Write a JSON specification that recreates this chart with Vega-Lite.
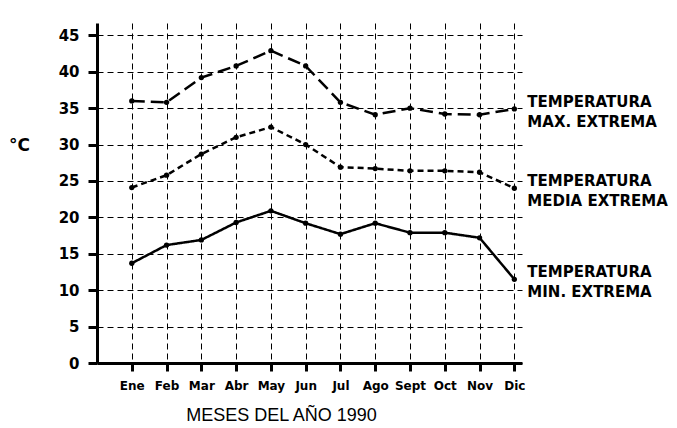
{
  "$schema": "https://vega.github.io/schema/vega-lite/v6.json",
  "width": 425,
  "height": 340,
  "autosize": "none",
  "padding": {"left": 97, "top": 23, "right": 155, "bottom": 65},
  "background": "white",
  "config": {
    "view": {"stroke": null},
    "font": "Liberation Sans"
  },
  "data": {
    "values": [
      {"mes": 1, "serie": "TEMPERATURA\nMAX. EXTREMA", "valor": 36.0},
      {"mes": 2, "serie": "TEMPERATURA\nMAX. EXTREMA", "valor": 35.8},
      {"mes": 3, "serie": "TEMPERATURA\nMAX. EXTREMA", "valor": 39.2},
      {"mes": 4, "serie": "TEMPERATURA\nMAX. EXTREMA", "valor": 40.8},
      {"mes": 5, "serie": "TEMPERATURA\nMAX. EXTREMA", "valor": 42.9},
      {"mes": 6, "serie": "TEMPERATURA\nMAX. EXTREMA", "valor": 40.8},
      {"mes": 7, "serie": "TEMPERATURA\nMAX. EXTREMA", "valor": 35.8},
      {"mes": 8, "serie": "TEMPERATURA\nMAX. EXTREMA", "valor": 34.1},
      {"mes": 9, "serie": "TEMPERATURA\nMAX. EXTREMA", "valor": 35.0},
      {"mes": 10, "serie": "TEMPERATURA\nMAX. EXTREMA", "valor": 34.2},
      {"mes": 11, "serie": "TEMPERATURA\nMAX. EXTREMA", "valor": 34.1},
      {"mes": 12, "serie": "TEMPERATURA\nMAX. EXTREMA", "valor": 34.9},
      {"mes": 1, "serie": "TEMPERATURA\nMEDIA EXTREMA", "valor": 24.1},
      {"mes": 2, "serie": "TEMPERATURA\nMEDIA EXTREMA", "valor": 25.8},
      {"mes": 3, "serie": "TEMPERATURA\nMEDIA EXTREMA", "valor": 28.7},
      {"mes": 4, "serie": "TEMPERATURA\nMEDIA EXTREMA", "valor": 31.0},
      {"mes": 5, "serie": "TEMPERATURA\nMEDIA EXTREMA", "valor": 32.4},
      {"mes": 6, "serie": "TEMPERATURA\nMEDIA EXTREMA", "valor": 30.0},
      {"mes": 7, "serie": "TEMPERATURA\nMEDIA EXTREMA", "valor": 26.9},
      {"mes": 8, "serie": "TEMPERATURA\nMEDIA EXTREMA", "valor": 26.7},
      {"mes": 9, "serie": "TEMPERATURA\nMEDIA EXTREMA", "valor": 26.4},
      {"mes": 10, "serie": "TEMPERATURA\nMEDIA EXTREMA", "valor": 26.4},
      {"mes": 11, "serie": "TEMPERATURA\nMEDIA EXTREMA", "valor": 26.2},
      {"mes": 12, "serie": "TEMPERATURA\nMEDIA EXTREMA", "valor": 24.0},
      {"mes": 1, "serie": "TEMPERATURA\nMIN. EXTREMA", "valor": 13.7},
      {"mes": 2, "serie": "TEMPERATURA\nMIN. EXTREMA", "valor": 16.2},
      {"mes": 3, "serie": "TEMPERATURA\nMIN. EXTREMA", "valor": 16.9},
      {"mes": 4, "serie": "TEMPERATURA\nMIN. EXTREMA", "valor": 19.3},
      {"mes": 5, "serie": "TEMPERATURA\nMIN. EXTREMA", "valor": 20.9},
      {"mes": 6, "serie": "TEMPERATURA\nMIN. EXTREMA", "valor": 19.2},
      {"mes": 7, "serie": "TEMPERATURA\nMIN. EXTREMA", "valor": 17.7},
      {"mes": 8, "serie": "TEMPERATURA\nMIN. EXTREMA", "valor": 19.2},
      {"mes": 9, "serie": "TEMPERATURA\nMIN. EXTREMA", "valor": 17.9},
      {"mes": 10, "serie": "TEMPERATURA\nMIN. EXTREMA", "valor": 17.9},
      {"mes": 11, "serie": "TEMPERATURA\nMIN. EXTREMA", "valor": 17.2},
      {"mes": 12, "serie": "TEMPERATURA\nMIN. EXTREMA", "valor": 11.5}
    ]
  },
  "encoding": {
    "x": {
      "field": "mes",
      "type": "quantitative",
      "scale": {"domain": [0, 12.22], "nice": false, "zero": false},
      "axis": {
        "values": [1, 2, 3, 4, 5, 6, 7, 8, 9, 10, 11, 12],
        "labelExpr": "['Ene','Feb','Mar','Abr','May','Jun','Jul','Ago','Sept','Oct','Nov','Dic'][datum.value - 1]",
        "title": "MESES DEL AÑO 1990",
        "titleFont": "Liberation Sans",
        "titleFontSize": 18,
        "titleFontWeight": "normal",
        "titleColor": "black",
        "titleX": 184,
        "titleY": 52,
        "titleAlign": "center",
        "titleBaseline": "middle",
        "labelFont": "DejaVu Sans",
        "labelFontSize": 12,
        "labelFontWeight": "bold",
        "labelColor": "black",
        "labelPadding": 9,
        "labelFlush": false,
        "domainColor": "black",
        "domainWidth": 3,
        "tickColor": "black",
        "tickWidth": 3,
        "tickSize": 8,
        "grid": true,
        "gridColor": "black",
        "gridDash": [6, 4],
        "gridWidth": 1
      }
    },
    "y": {
      "field": "valor",
      "type": "quantitative",
      "scale": {"domain": [0, 46.7], "nice": false},
      "axis": {
        "values": [0, 5, 10, 15, 20, 25, 30, 35, 40, 45],
        "title": "°C",
        "titleAngle": 0,
        "titleFont": "DejaVu Sans",
        "titleFontSize": 17,
        "titleFontWeight": 600,
        "titleColor": "black",
        "titleX": -78,
        "titleY": 122,
        "titleAlign": "center",
        "titleBaseline": "middle",
        "labelFont": "DejaVu Sans",
        "labelFontSize": 15,
        "labelFontWeight": "bold",
        "labelColor": "black",
        "labelPadding": 9,
        "domainColor": "black",
        "domainWidth": 3,
        "tickColor": "black",
        "tickWidth": 3,
        "tickSize": 9,
        "grid": true,
        "gridColor": "black",
        "gridDash": [6, 4],
        "gridWidth": 1
      }
    }
  },
  "layer": [
    {
      "mark": {"type": "line", "color": "black", "strokeWidth": 2.5},
      "encoding": {
        "detail": {"field": "serie"},
        "strokeDash": {
          "field": "serie",
          "scale": {
            "domain": ["TEMPERATURA\nMAX. EXTREMA", "TEMPERATURA\nMEDIA EXTREMA", "TEMPERATURA\nMIN. EXTREMA"],
            "range": [[13, 6], [6, 4], [1, 0]]
          },
          "legend": null
        }
      }
    },
    {
      "mark": {"type": "circle", "color": "black", "size": 28, "opacity": 1},
      "encoding": {"detail": {"field": "serie"}}
    },
    {
      "transform": [{"filter": "datum.mes == 12"}],
      "mark": {
        "type": "text",
        "align": "left",
        "baseline": "middle",
        "dx": 13,
        "dy": -7,
        "lineBreak": "\n",
        "lineHeight": 20,
        "font": "DejaVu Sans",
        "fontSize": 15,
        "fontWeight": "bold",
        "color": "black"
      },
      "encoding": {"text": {"field": "serie"}}
    }
  ]
}
